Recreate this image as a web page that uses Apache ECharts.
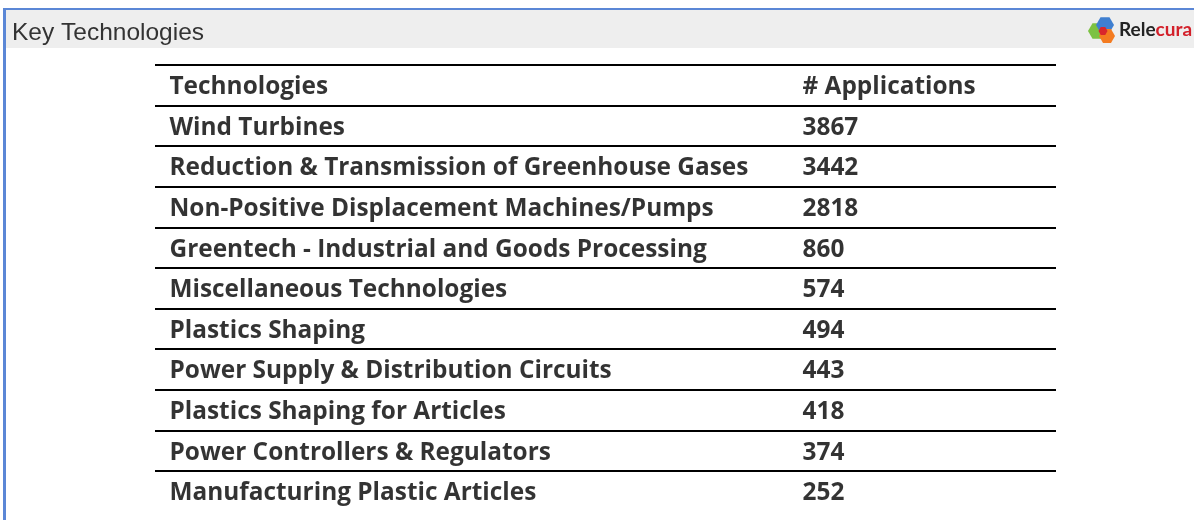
<!DOCTYPE html>
<html>
<head>
<meta charset="utf-8">
<script src="https://cdn.jsdelivr.net/npm/echarts@6/dist/echarts.min.js"></script>
<style>
  html, body { margin: 0; padding: 0; background: #fff; }
  #chart { width: 1194px; height: 520px; }
</style>
</head>
<body>
<div id="chart"></div>
<script>
// table content
const headers = ['Technologies', '# Applications']
const technologies = [
  'Wind Turbines',
  'Reduction & Transmission of Greenhouse Gases',
  'Non-Positive Displacement Machines/Pumps',
  'Greentech - Industrial and Goods Processing',
  'Miscellaneous Technologies',
  'Plastics Shaping',
  'Power Supply & Distribution Circuits',
  'Plastics Shaping for Articles',
  'Power Controllers & Regulators',
  'Manufacturing Plastic Articles'
]
const applications = [3867, 3442, 2818, 860, 574, 494, 443, 418, 374, 252]

// layout of the table (x axis runs 0..901 across the grid)
const tableWidth = 901
const nameCol = 14
const countCol = 647
const rowHeight = 40.6

const rows = [headers[0]].concat(technologies)

const chart = echarts.init(document.getElementById('chart'))

const cellFont = {
  fontFamily: 'Open Sans',
  fontWeight: 'bold',
  fontSize: 24.4,
  color: '#000'
}

const textSeries = (x, texts) => ({
  type: 'scatter',
  silent: true,
  symbolSize: 1,
  itemStyle: { color: 'rgba(0,0,0,0)' },
  data: texts.map((t, i) => ({ value: [x, rows[i]], text: String(t) })),
  label: {
    show: true,
    position: 'right',
    distance: 0,
    offset: [0, 2],
    formatter: p => p.data.text,
    ...cellFont
  }
})

function hex(cx, cy, r) {
  const pts = []
  for (let i = 0; i < 6; i++) {
    const a = Math.PI / 3 * i
    pts.push([cx + r * Math.cos(a), cy + r * Math.sin(a)])
  }
  return pts
}

const option = {
  animation: false,
  title: {
    text: 'Key Technologies',
    left: 7,
    top: 16,
    textStyle: {
      fontFamily: 'Liberation Sans',
      fontWeight: 'normal',
      fontSize: 24.5,
      color: '#333'
    }
  },
  graphic: [
    // header band and blue frame
    { type: 'rect', z: -10, shape: { x: 5, y: 9, width: 1189, height: 39 }, style: { fill: '#eeeeee' } },
    { type: 'line', shape: { x1: 4, y1: 9, x2: 1194, y2: 9 }, style: { stroke: '#5b87d6', lineWidth: 2 } },
    { type: 'line', shape: { x1: 4.5, y1: 8, x2: 4.5, y2: 520 }, style: { stroke: '#5b87d6', lineWidth: 3 } },
    // logo
    { type: 'polygon', shape: { points: hex(1097, 31, 9) }, style: { fill: '#7cc242' } },
    { type: 'polygon', shape: { points: hex(1105, 25, 9) }, style: { fill: '#3f7fd0' } },
    { type: 'polygon', shape: { points: hex(1107, 36, 8) }, style: { fill: '#f47b20' } },
    { type: 'polygon', shape: { points: hex(1103, 31, 4.5) }, style: { fill: '#d9262b' } },
    {
      type: 'text',
      left: 1119,
      top: 20,
      style: {
        text: '{a|Rele}{b|cura}',
        rich: {
          a: { fontFamily: 'Lato', fontWeight: 'bold', fontSize: 19, fill: '#222' },
          b: { fontFamily: 'Lato', fontWeight: 'bold', fontSize: 19, fill: '#d3202a' }
        }
      }
    }
  ],
  grid: {
    left: 155,
    top: 65,
    width: tableWidth,
    height: rowHeight * rows.length
  },
  xAxis: {
    type: 'value',
    min: 0,
    max: tableWidth,
    show: false
  },
  yAxis: {
    type: 'category',
    inverse: true,
    data: rows,
    axisLine: { show: false },
    axisTick: { show: false },
    axisLabel: { show: false },
    splitLine: {
      show: true,
      showMinLine: true,
      showMaxLine: false,
      lineStyle: { color: '#000', width: 2 }
    }
  },
  series: [
    textSeries(nameCol, rows),
    textSeries(countCol, [headers[1]].concat(applications))
  ]
}

chart.setOption(option)
</script>
</body>
</html>
